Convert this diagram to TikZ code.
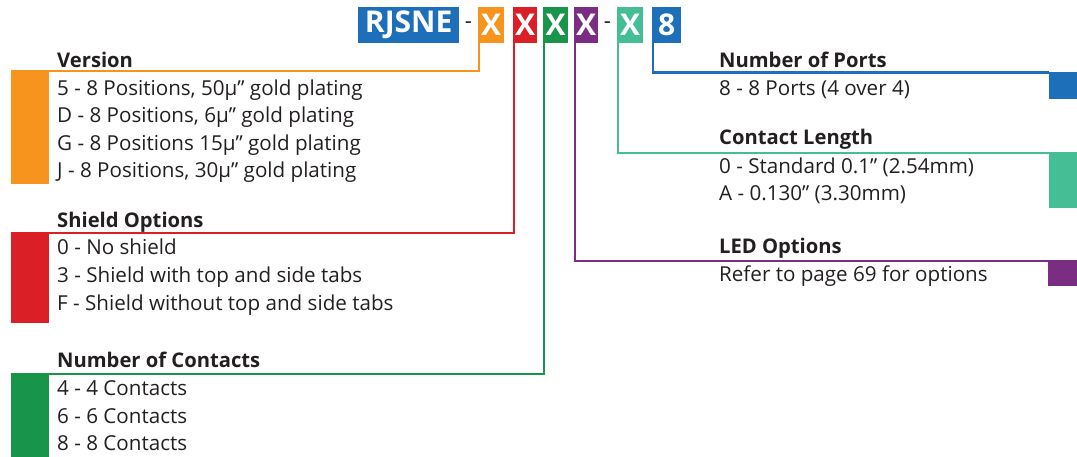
\documentclass[tikz,border=0pt]{standalone}
\usepackage{fontspec}
\setmainfont{Open Sans}
\definecolor{cOr}{HTML}{F7941D}
\definecolor{cRe}{HTML}{DA1F26}
\definecolor{cGr}{HTML}{18954A}
\definecolor{cPu}{HTML}{7B2D81}
\definecolor{cTe}{HTML}{45BE95}
\definecolor{cBl}{HTML}{1C6FB8}
\definecolor{cTx}{HTML}{231F20}
\begin{document}
\begin{tikzpicture}[x=1pt,y=-1pt,
  hdr/.style={fill=#1, text=white, font=\bfseries\fontsize{30}{30}\selectfont, inner sep=0pt, minimum height=36pt, anchor=north west},
  bar/.style={fill=#1, draw=none, inner sep=0pt, anchor=north west},
  ttl/.style={anchor=base west, inner sep=0pt, text=cTx, font=\bfseries\fontsize{20.2}{20.2}\selectfont},
  itm/.style={anchor=base west, inner sep=0pt, text=cTx, font=\fontsize{20.6}{20.6}\selectfont},
  sepdash/.style={text=cTx, inner sep=0pt, font=\fontsize{22}{22}\selectfont},
  conn/.style={draw=#1, line width=2.2pt}
]
\useasboundingbox (0,0) rectangle (1077,456);
% header boxes
\node[hdr=cBl, minimum width=101pt] (rj) at (358,7) {RJSNE};
\node[sepdash] (d1) at (468.5,25) {-};
\node[hdr=cOr, minimum width=26pt] (ox) at (478,7) {X};
\node[hdr=cRe, minimum width=24pt] (rx) at (513,7) {X};
\node[hdr=cGr, minimum width=25pt] (gx) at (543,7) {X};
\node[hdr=cPu, minimum width=24pt] (px) at (574,7) {X};
\node[sepdash] (d2) at (607.5,25) {-};
\node[hdr=cTe, minimum width=26pt] (tx) at (617,7) {X};
\node[hdr=cBl, minimum width=29pt] (bx) at (652,7) {8};
% bars
\node[bar=cOr, minimum width=37.5pt, minimum height=114pt] (obar) at (11,70) {};
\node[bar=cRe, minimum width=37.5pt, minimum height=91pt] (rbar) at (11,232) {};
\node[bar=cGr, minimum width=37.5pt, minimum height=84pt] (gbar) at (11,373) {};
\node[bar=cBl, minimum width=28.5pt, minimum height=27pt] (bbar) at (1048.5,71.5) {};
\node[bar=cTe, minimum width=28.5pt, minimum height=56pt] (tbar) at (1048.5,152) {};
\node[bar=cPu, minimum width=29pt, minimum height=26pt] (pbar) at (1048,260) {};
% connectors
\draw[conn=cOr] ([xshift=1.2pt]ox.south west) |- ([yshift=-1pt]obar.north east);
\draw[conn=cRe] ([xshift=1.2pt]rx.south west) |- ([yshift=-1pt]rbar.north east);
\draw[conn=cGr] ([xshift=1.2pt]gx.south west) |- ([yshift=-1pt]gbar.north east);
\draw[conn=cPu] ([xshift=1.2pt]px.south west) |- ([yshift=-1pt]pbar.north west);
\draw[conn=cTe] ([xshift=1.2pt]tx.south west) |- ([yshift=-1pt]tbar.north west);
\draw[conn=cBl] ([xshift=1.2pt]bx.south west) |- ([yshift=-1pt]bbar.north west);
% left texts
\node[ttl] (vt) at (57,67) {Version};
\node[itm] (v1) at (57,95) {5 - 8 Positions, 50µ” gold plating};
\node[itm] (v2) at (57,122.5) {D - 8 Positions, 6µ” gold plating};
\node[itm] (v3) at (57,150) {G - 8 Positions 15µ” gold plating};
\node[itm] (v4) at (57,177) {J - 8 Positions, 30µ” gold plating};
\node[ttl] (st) at (57,227) {Shield Options};
\node[itm] (s1) at (57,254) {0 - No shield};
\node[itm] (s2) at (57,282) {3 - Shield with top and side tabs};
\node[itm] (s3) at (57,310) {F - Shield without top and side tabs};
\node[ttl] (ct) at (57,367) {Number of Contacts};
\node[itm] (c1) at (57,395) {4 - 4 Contacts};
\node[itm] (c2) at (57,423) {6 - 6 Contacts};
\node[itm] (c3) at (57,450) {8 - 8 Contacts};
% right texts
\node[ttl] (pt) at (719,67) {Number of Ports};
\node[itm] (p1) at (719,95) {8 - 8 Ports (4 over 4)};
\node[ttl] (lt) at (719,144) {Contact Length};
\node[itm] (l1) at (719,173) {0 - Standard 0.1” (2.54mm)};
\node[itm] (l2) at (719,200.5) {A - 0.130” (3.30mm)};
\node[ttl] (et) at (719,253) {LED Options};
\node[itm] (e1) at (719,281) {Refer to page 69 for options};
\end{tikzpicture}
\end{document}
